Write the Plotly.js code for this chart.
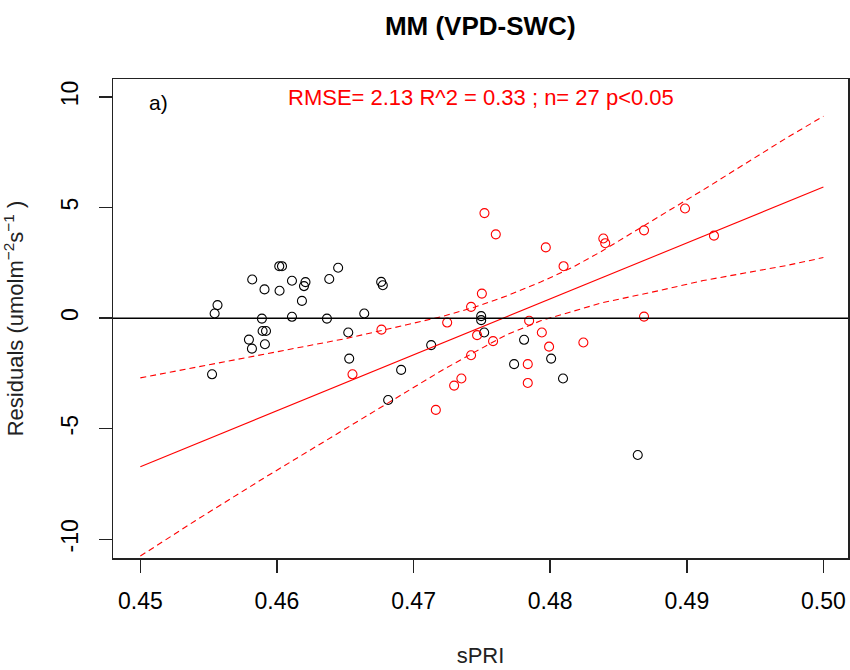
<!DOCTYPE html>
<html>
<head>
<meta charset="utf-8">
<script src="https://cdn.plot.ly/plotly-3.0.1.min.js"></script>
<style>html,body{margin:0;padding:0;background:#fff;}#chart{width:850px;height:670px;}</style>
</head>
<body>
<div id="chart"></div>
<script>
// Black points (all observations)
const blackX = [0.45544,0.45565,0.45525,0.45819,0.45909,0.46017,0.46037,0.46019,0.46110,0.46209,0.46198,0.46183,0.46383,0.46448,0.46763,0.46775,0.45890,0.46110,0.46366,0.46639,0.45895,0.45920,0.45795,0.45817,0.45912,0.46522,0.46529,0.46909,0.46814,0.47495,0.47495,0.47517,0.47129,0.47809,0.48007,0.47736,0.48094,0.48641];
const blackY = [0.21,0.59,-2.54,1.75,1.30,2.35,2.35,1.24,1.69,1.63,1.45,0.78,1.77,2.28,1.64,1.49,-0.02,0.06,-0.02,0.21,-0.58,-0.58,-0.97,-1.38,-1.18,-0.65,-1.83,-2.34,-3.70,0.09,-0.09,-0.65,-1.22,-0.98,-1.83,-2.08,-2.73,-6.19];
// Red points (subset used in regression, n = 27)
const redX = [0.46765,0.46553,0.47519,0.47602,0.47968,0.48098,0.48389,0.48403,0.48687,0.48987,0.49199,0.47500,0.47421,0.47246,0.47846,0.47465,0.47582,0.47939,0.47992,0.48243,0.47421,0.47836,0.47350,0.47297,0.47836,0.47163,0.48687];
const redY = [-0.52,-2.54,4.75,3.79,3.20,2.35,3.60,3.39,3.97,4.96,3.73,1.11,0.51,-0.20,-0.12,-0.77,-1.04,-0.65,-1.29,-1.10,-1.68,-2.08,-2.73,-3.05,-2.93,-4.15,0.07];
// Fitted line
const fitX = [0.45, 0.47, 0.48, 0.50];
const fitY = [-6.72, -1.65, 0.88, 5.93];
// Confidence band
const bandX  = [0.45, 0.454, 0.459, 0.465, 0.4695, 0.472, 0.4744, 0.4768, 0.4793, 0.4817, 0.4837, 0.488, 0.4912, 0.4973, 0.50];
const upperY = [-2.70, -2.22, -1.63, -0.93, -0.30, 0.06, 0.48, 1.00, 1.63, 2.32, 3.00, 4.60, 5.80, 8.15, 9.13];
const lowerY = [-10.76, -9.17, -7.25, -5.00, -3.30, -2.39, -1.56, -0.75, -0.12, 0.30, 0.68, 1.25, 1.70, 2.38, 2.74];
// Ticks
const xTicks = [0.45, 0.46, 0.47, 0.48, 0.49, 0.50];
const xTickText = ['0.45', '0.46', '0.47', '0.48', '0.49', '0.50'];
const yTicks = [-10, -5, 0, 5, 10];
const yTickText = ['-10', '-5', '0', '5', '10'];

const FONT = 'Liberation Sans, Arial, sans-serif';

const traces = [
  {x: blackX, y: blackY, type: 'scatter', mode: 'markers',
   marker: {symbol: 'circle-open', size: 9, color: '#000', line: {width: 1.1, color: '#000'}}, hoverinfo: 'skip'},
  {x: redX, y: redY, type: 'scatter', mode: 'markers',
   marker: {symbol: 'circle-open', size: 9, color: '#ff0000', line: {width: 1.1, color: '#ff0000'}}, hoverinfo: 'skip'},
  {x: fitX, y: fitY, type: 'scatter', mode: 'lines', line: {color: '#ff0000', width: 1.1}, hoverinfo: 'skip'},
  {x: bandX, y: upperY, type: 'scatter', mode: 'lines', line: {color: '#ff0000', width: 1.1, dash: '6px,4px'}, hoverinfo: 'skip'},
  {x: bandX, y: lowerY, type: 'scatter', mode: 'lines', line: {color: '#ff0000', width: 1.1, dash: '6px,4px'}, hoverinfo: 'skip'}
];

const layout = {
  width: 850, height: 670,
  margin: {l: 113, r: 2, t: 79, b: 112},
  paper_bgcolor: '#fff', plot_bgcolor: '#fff',
  showlegend: false,
  font: {family: FONT, size: 22, color: '#000'},
  title: {text: '<b>MM (VPD-SWC)</b>', font: {family: FONT, size: 26, color: '#000'},
          x: 0.565, xanchor: 'center', y: 0.962, yanchor: 'middle'},
  xaxis: {range: [0.4480, 0.5018], tickvals: xTicks, ticktext: xTickText,
          showline: true, mirror: true, linecolor: '#222', linewidth: 1.5,
          ticks: 'outside', ticklen: 13, tickwidth: 1.5, tickcolor: '#222',
          showgrid: false, zeroline: false, ticklabelstandoff: 9,
          tickfont: {family: FONT, size: 23, color: '#000'},
          title: {text: 'sPRI', font: {family: FONT, size: 22, color: '#222'}, standoff: 34}},
  yaxis: {range: [-10.847, 10.815], tickvals: yTicks, ticktext: yTickText, tickangle: -90,
          showline: true, mirror: true, linecolor: '#222', linewidth: 1.5,
          ticks: 'outside', ticklen: 13, tickwidth: 1.5, tickcolor: '#222',
          showgrid: false, zeroline: false, ticklabelstandoff: 11,
          tickfont: {family: FONT, size: 23, color: '#000'},
          title: {text: 'Residuals (umolm<sup>\u22122</sup>s<sup>\u22121</sup> )', font: {family: FONT, size: 22, color: '#222'}, standoff: 29}},
  shapes: [
    {type: 'line', xref: 'paper', x0: 0, x1: 1, yref: 'y', y0: 0, y1: 0, line: {color: '#000', width: 1.5}}
  ],
  annotations: [
    {text: 'RMSE= 2.13 R^2 = 0.33 ; n= 27 p<0.05', xref: 'paper', yref: 'paper', x: 0.5, y: 0.961,
     xanchor: 'center', yanchor: 'middle', showarrow: false, font: {family: FONT, size: 22, color: '#ff0000'}},
    {text: 'a)', xref: 'paper', yref: 'paper', x: 0.0616, y: 0.9505,
     xanchor: 'center', yanchor: 'middle', showarrow: false, font: {family: FONT, size: 21, color: '#000'}}
  ]
};

Plotly.newPlot('chart', traces, layout, {staticPlot: true, displayModeBar: false});
</script>
</body>
</html>
